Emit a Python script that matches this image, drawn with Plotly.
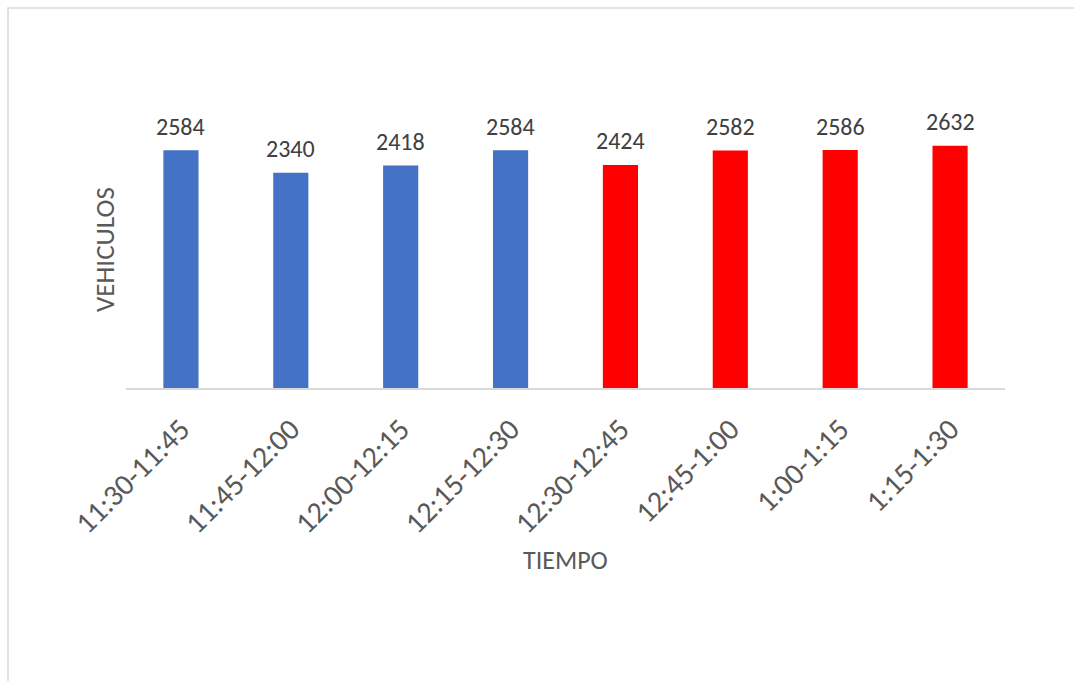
import plotly.graph_objects as go

# Vehicle counts per 15-minute interval
intervalos = ["11:30-11:45", "11:45-12:00", "12:00-12:15", "12:15-12:30",
              "12:30-12:45", "12:45-1:00", "1:00-1:15", "1:15-1:30"]
vehiculos = [2584, 2340, 2418, 2584, 2424, 2582, 2586, 2632]
# first four intervals in blue, the rest in red
grupo = ["a", "a", "a", "a", "b", "b", "b", "b"]

COLORES = {"a": "#4472C4", "b": "#FF0000"}
FONT = "Calibri, Carlito, Lato, sans-serif"

# plot-area geometry in pixels
W, H = 1074, 681
L, R, T, B = 126, 69, 112, 293
PW, PH = W - L - R, H - T - B


def px_x(x):
    return (x - L) / PW


def px_y(y):
    return (H - B - y) / PH


fig = go.Figure(
    go.Bar(
        x=intervalos,
        y=vehiculos,
        marker=dict(color=[COLORES[g] for g in grupo], line=dict(width=0)),
        width=0.32,
        hoverinfo="x+y",
    )
)

# value labels above the bars
for cat, val in zip(intervalos, vehiculos):
    fig.add_annotation(
        x=cat, y=val, text=str(val), showarrow=False,
        yanchor="middle", yshift=24,
        font=dict(family=FONT, size=24, color="#404040"),
    )

# axis titles
fig.add_annotation(
    x=0.5, y=px_y(560), xref="paper", yref="paper", text="TIEMPO",
    xanchor="center", yanchor="middle",
    showarrow=False, font=dict(family=FONT, size=26, color="#595959"),
)
fig.add_annotation(
    x=px_x(104), y=0.5, xref="paper", yref="paper", text="VEHICULOS",
    xanchor="center", yanchor="middle",
    textangle=-90, showarrow=False,
    font=dict(family=FONT, size=27, color="#595959"),
)

# chart-area border
fig.add_shape(
    type="rect", xref="paper", yref="paper",
    x0=px_x(8), x1=px_x(W + 20), y0=px_y(H + 20), y1=px_y(8),
    line=dict(color="#D9D9D9", width=1.5), fillcolor="rgba(0,0,0,0)",
    layer="below",
)

fig.update_layout(
    width=W, height=H,
    margin=dict(l=L, r=R, t=T, b=B),
    paper_bgcolor="white", plot_bgcolor="white",
    showlegend=False,
    font=dict(family=FONT, color="#595959"),
    xaxis=dict(
        showline=True, linecolor="#D9D9D9", linewidth=1.5,
        ticks="", tickangle=-45, showgrid=False,
        ticklabelstandoff=10,
        tickfont=dict(family=FONT, size=30, color="#595959"),
    ),
    yaxis=dict(
        range=[0, 3000], showticklabels=False, showgrid=False,
        zeroline=False, showline=False, ticks="",
    ),
)

fig.write_html("out.html")
